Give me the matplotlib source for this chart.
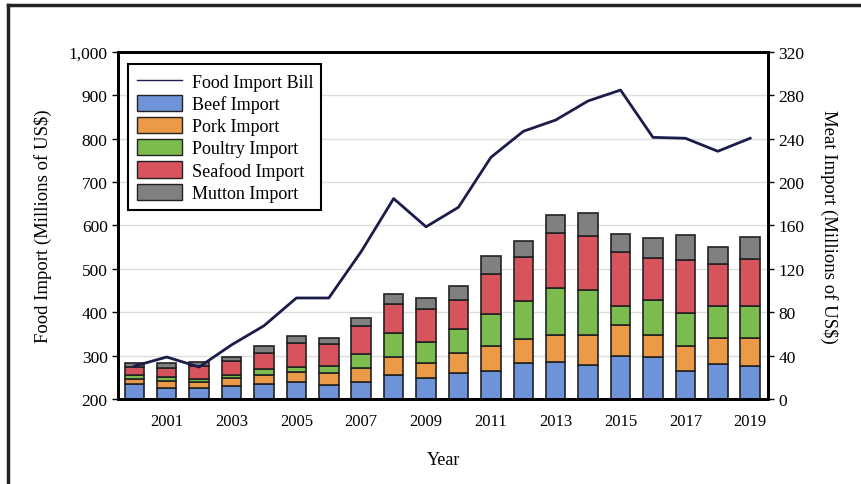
import numpy as np
import matplotlib
matplotlib.use('Agg')
import matplotlib.pyplot as plt
from matplotlib.patches import Patch
from matplotlib.lines import Line2D

plt.rcParams['font.family'] = ['Liberation Serif', 'DejaVu Serif']

# --- data ---
years = list(range(2000, 2020))
food_bill = [276, 297, 274, 325, 369, 433, 433, 540, 662, 597,
             642, 757, 817, 843, 887, 912, 803, 801, 771, 801]
beef = [13.8, 10.1, 9.9, 11.7, 13.8, 15.4, 12.9, 15.4, 22.4, 19.6,
        23.7, 25.6, 33.2, 34.1, 31.4, 39.9, 38.5, 26.1, 32.3, 30.7]
pork = [4.7, 6.8, 6.1, 7.4, 8.6, 9.2, 10.8, 12.9, 16.1, 13.6,
        18.5, 23.0, 22.2, 24.9, 27.6, 28.4, 20.5, 22.8, 24.0, 25.6]
poultry = [3.9, 3.1, 2.5, 3.3, 5.0, 4.7, 6.5, 13.2, 22.1, 19.1,
           22.4, 29.8, 35.0, 43.1, 41.6, 17.2, 32.6, 30.7, 29.2, 29.2]
seafood = [6.8, 8.4, 11.7, 12.9, 15.0, 22.1, 20.5, 25.6, 27.0, 30.7,
           27.0, 36.9, 40.9, 51.0, 49.5, 49.8, 38.5, 48.6, 38.8, 43.4]
mutton = [3.7, 4.5, 3.7, 3.7, 6.2, 6.4, 5.6, 7.6, 9.3, 9.9,
          12.4, 16.9, 14.7, 16.9, 21.8, 16.9, 18.1, 23.1, 15.6, 20.3]

series = [('Beef Import', beef, '#6f93d8'),
          ('Pork Import', pork, '#eb9a47'),
          ('Poultry Import', poultry, '#7cbc4f'),
          ('Seafood Import', seafood, '#d8545c'),
          ('Mutton Import', mutton, '#808080')]

fig = plt.figure(figsize=(8.62, 4.85), dpi=100)
ax = fig.add_axes([0.137, 0.175, 0.754, 0.716])
ax2 = ax.twinx()

# bars on the right axis
bottom = np.zeros(len(years))
handles = [Line2D([], [], color='#1c1c4c', lw=1.0, label='Food Import Bill')]
for name, vals, col in series:
    ax2.bar(years, vals, width=0.6, bottom=bottom, color=col,
            edgecolor='#222222', linewidth=1.2, zorder=3)
    bottom += np.array(vals)
    handles.append(Patch(facecolor=col, edgecolor='#222222', label=name))

ax2.set_ylim(0, 320)
ax2.set_yticks(range(0, 321, 40))
ax2.yaxis.grid(True, color='#dddddd', lw=1, zorder=0)
ax2.set_axisbelow(True)
ax2.set_ylabel('Meat Import (Millions of US$)', rotation=270, labelpad=24, fontsize=13.5)

# line on the left axis, drawn above the bars
ax.set_zorder(ax2.get_zorder() + 1)
ax.patch.set_visible(False)
ax.plot(years, food_bill, color='#1c1c4c', lw=2, zorder=5)
ax.set_ylim(200, 1000)
ax.set_yticks(range(200, 1001, 100))
ax.set_yticklabels([f'{v:,}' for v in range(200, 1001, 100)])
ax.set_xlim(1999.5, 2019.55)
ax.set_xticks(range(2001, 2020, 2))
ax.set_ylabel('Food Import (Millions of US$)', fontsize=13.5, labelpad=12)
ax.set_xlabel('Year', fontsize=13, labelpad=16)

for a in (ax, ax2):
    for s in a.spines.values():
        s.set_linewidth(2)
    a.tick_params(labelsize=12.5, width=1, length=4)
ax.tick_params(axis='x', length=0, pad=10, labelsize=12)

leg = ax.legend(handles=handles, loc='upper left', bbox_to_anchor=(0.002, 0.99),
                fontsize=13, fancybox=False, edgecolor='black', framealpha=1,
                handlelength=2.5, handleheight=1.0, labelspacing=0.22,
                borderpad=0.45, handletextpad=0.55)
leg.get_frame().set_linewidth(1.5)

# outer frame of the picture
fig.add_artist(Line2D([8 / 862, 8 / 862], [0, 1 - 6 / 485], color='#222222', lw=2.5,
                      transform=fig.transFigure))
fig.add_artist(Line2D([8 / 862, 1], [1 - 6 / 485, 1 - 6 / 485], color='#222222', lw=2.5,
                      transform=fig.transFigure))

fig.savefig('out.png', dpi=100)
